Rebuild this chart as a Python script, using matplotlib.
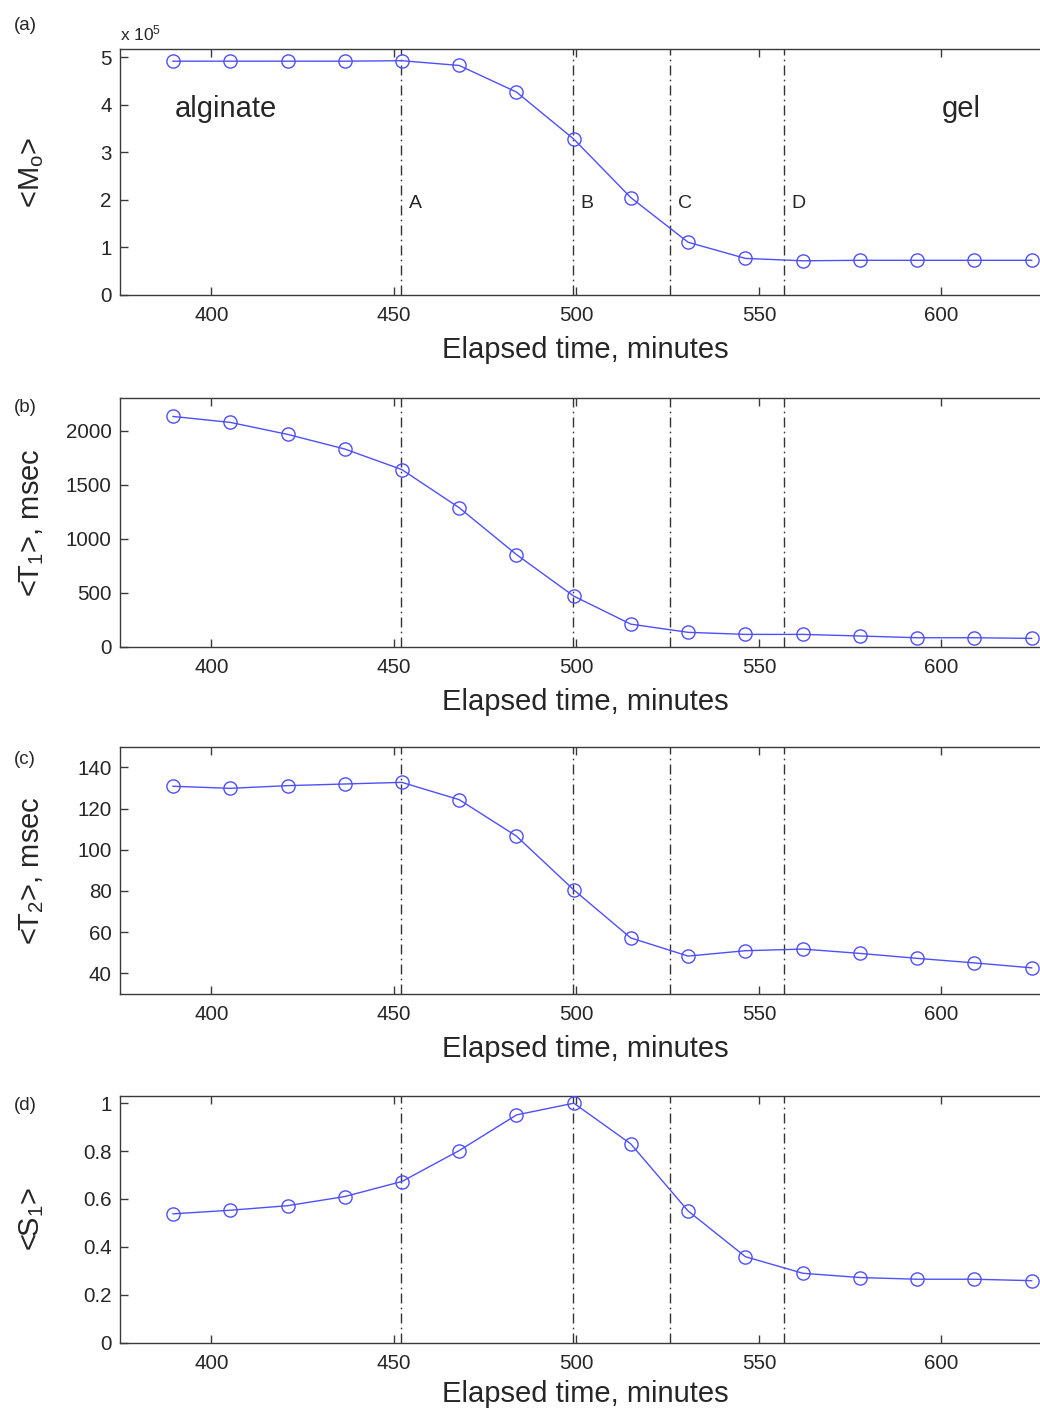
import matplotlib
matplotlib.use("Agg")
import matplotlib.pyplot as plt
from matplotlib.ticker import FuncFormatter

plt.rcParams['font.family'] = ['Liberation Sans', 'DejaVu Sans']
plt.rcParams['mathtext.fontset'] = 'custom'
plt.rcParams['mathtext.rm'] = 'Liberation Sans'
plt.rcParams['mathtext.default'] = 'regular'

# ---- data ----
time_min = [389.5, 405.2, 420.9, 436.5, 452.2, 467.9, 483.6, 499.3,
            514.9, 530.6, 546.3, 562.0, 577.7, 593.3, 609.0, 624.7]
M0 = [492000, 492000, 492000, 492000, 493000, 483000, 427000, 328000,
      205000, 111000, 77000, 72000, 73000, 73000, 73000, 73000]
T1 = [2132, 2077, 1966, 1831, 1640, 1287, 853, 468,
      209, 133, 114, 114, 99, 83, 83, 77]
T2 = [130.8, 129.8, 131.1, 131.9, 132.7, 124.3, 106.6, 80.5,
      57.2, 48.4, 51.0, 51.8, 49.7, 47.3, 45.1, 42.7]
S1 = [0.538, 0.553, 0.572, 0.610, 0.673, 0.802, 0.951, 1.0,
      0.830, 0.550, 0.359, 0.290, 0.272, 0.265, 0.265, 0.259]
event_times = [452.1, 499.2, 525.7, 557.0]
event_labels = ['A', 'B', 'C', 'D']
panel_labels = ['(a)', '(b)', '(c)', '(d)']
ylabels = ['<M$_o$>', '<T$_1$>, msec', '<T$_2$>, msec', '<S$_1$>']
xlabel = 'Elapsed time, minutes'
xticks = [400, 450, 500, 550, 600]
yticks_list = [[0, 1, 2, 3, 4, 5],
               [0, 500, 1000, 1500, 2000],
               [40, 60, 80, 100, 120, 140],
               [0, 0.2, 0.4, 0.6, 0.8, 1]]
ylims = [(0, 5.17), (0, 2300), (30, 150), (0, 1.03)]
M0_scale = 1e5

W, H = 1040, 1409
fig = plt.figure(figsize=(W / 100, H / 100), dpi=100)

left = 120 / W
width = 931 / W
# (top_px, bottom_px)
boxes = [(49.3, 295.0), (398.3, 646.7), (746.7, 994.0), (1096.0, 1342.7)]
panel_label_y = [26, 408, 759, 1106]
label_pads = [8, 8, 8, 5.5]

series = [[v / M0_scale for v in M0], T1, T2, S1]

blue = '#4f4fff'
grey = '#262626'
spine_c = '#3a3a3a'

for i, (tp, bp) in enumerate(boxes):
    ax = fig.add_axes([left, 1 - bp / H, width, (bp - tp) / H])
    ax.plot(time_min, series[i], color=blue, lw=1.0, marker='o', ms=9.5,
            mfc='none', mec=blue, mew=1.0, zorder=3)
    for et in event_times:
        ax.axvline(et, color='#333333', lw=1.0, dashes=(7.2, 3, 1.2, 3), zorder=2)
    ax.set_xlim(375, 630)
    ax.set_ylim(*ylims[i])
    ax.set_xticks(xticks)
    ax.set_yticks(yticks_list[i])
    ax.yaxis.set_major_formatter(FuncFormatter(lambda v, p: f'{v:g}'))
    ax.tick_params(direction='in', length=6, width=1.0, colors=spine_c,
                   labelcolor=grey, labelsize=14.8, top=True, right=True)
    ax.tick_params(axis='x', pad=8)
    ax.tick_params(axis='y', pad=6)
    for s in ax.spines.values():
        s.set_color(spine_c)
        s.set_linewidth(1.0)
    ax.set_xlabel(xlabel, fontsize=21, color=grey, labelpad=label_pads[i])
    # y label
    fig.text(32 / W, 1 - (tp + bp) / 2 / H, ylabels[i], rotation=90,
             ha='center', va='center', fontsize=21, color=grey)
    fig.text(25 / W, 1 - panel_label_y[i] / H, panel_labels[i],
             ha='center', va='center', fontsize=13.5, color=grey)
    if i == 0:
        for et, lab in zip(event_times, event_labels):
            ax.text(et + 2.0, 1.83, lab, fontsize=14, color=grey,
                    ha='left', va='baseline')
        ax.text(389.9, 3.75, 'alginate', fontsize=21, color=grey,
                ha='left', va='baseline')
        ax.text(600.0, 3.75, 'gel', fontsize=21, color=grey,
                ha='left', va='baseline')
        fig.text(120 / W, 1 - 40 / H, 'x 10$^5$', fontsize=12.5, color=grey,
                 ha='left', va='baseline')

fig.savefig('out.png', dpi=100)
